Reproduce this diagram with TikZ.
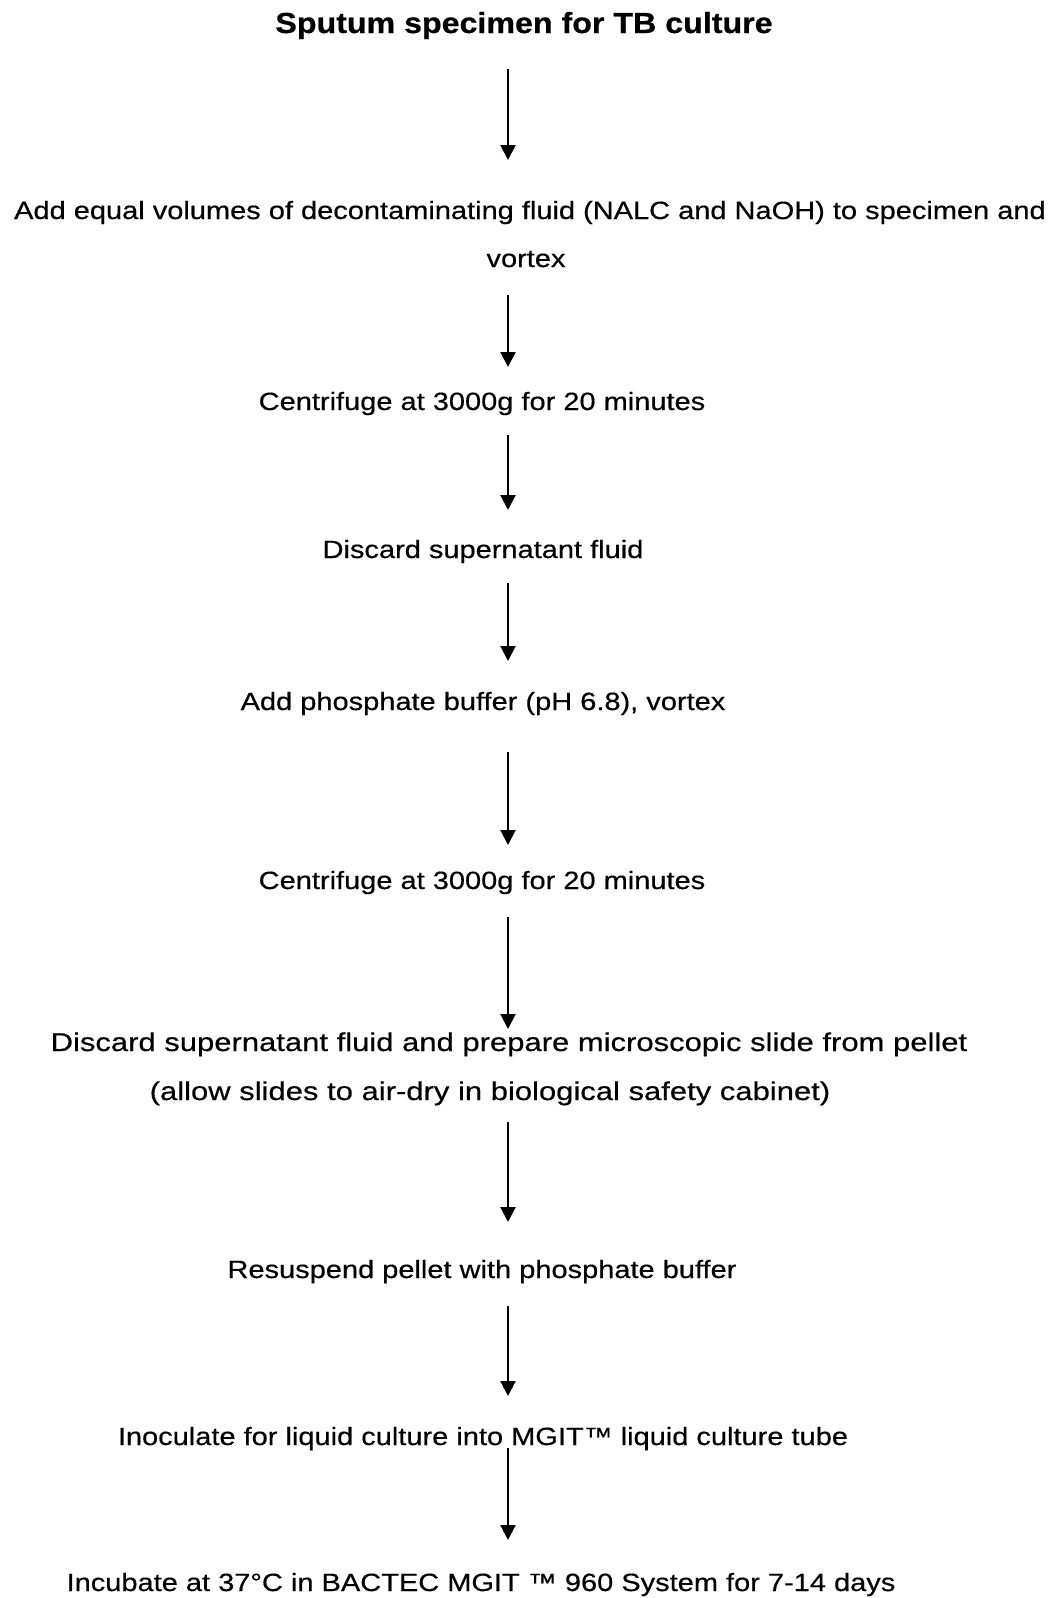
\documentclass[tikz,border=0pt]{standalone}
\usepackage{fontspec}
\setmainfont{Liberation Sans}[FakeBold=0.6]
\newfontfamily\bodyfont{Liberation Sans}[FakeBold=0.4]
\usetikzlibrary{arrows.meta}
\newcommand{\stepfont}{\bodyfont\fontsize{25}{30}\selectfont}
\newcommand{\sx}[1]{\scalebox{1.16}[1]{#1}}
\newcommand{\sxw}[1]{\scalebox{1.24}[1.03]{#1}}
\begin{document}
\begin{tikzpicture}[x=1pt,y=-1pt,
  txt/.style={anchor=base,inner sep=0pt,font=\stepfont},
  ttl/.style={anchor=base,inner sep=0pt,font=\fontsize{29}{33}\selectfont\bfseries},
  flow/.style={line width=2.2pt,-{Triangle[length=15pt,width=15pt]}}]
\useasboundingbox[fill=white] (0,0) rectangle (1061,1598);
% text steps
\node[ttl] (t0) at (524,33) {\scalebox{1.11}[1]{Sputum specimen for TB culture}};
\node[txt] (t1) at (530,219) {\sx{Add equal volumes of decontaminating fluid (NALC and NaOH) to specimen and}};
\node[txt] (t1b) at (526,267) {\sx{vortex}};
\node[txt] (t2) at (482,410) {\sx{Centrifuge at 3000g for 20 minutes}};
\node[txt] (t3) at (483,558) {\sx{Discard supernatant fluid}};
\node[txt] (t4) at (483,710) {\sx{Add phosphate buffer (pH 6.8), vortex}};
\node[txt] (t5) at (482,889) {\sx{Centrifuge at 3000g for 20 minutes}};
\node[txt] (t6) at (509,1051) {\sxw{Discard supernatant fluid and prepare microscopic slide from pellet}};
\node[txt] (t6b) at (490,1100) {\sxw{(allow slides to air-dry in biological safety cabinet)}};
\node[txt] (t7) at (482,1278) {\sx{Resuspend pellet with phosphate buffer}};
\node[txt] (t8) at (483,1445) {\sx{Inoculate for liquid culture into MGIT™ liquid culture tube}};
\node[txt] (t9) at (481,1591) {\sx{Incubate at 37°C in BACTEC MGIT ™ 960 System for 7-14 days}};
% arrow end points
\coordinate (a1s) at (508,69);   \coordinate (a1e) at (508,160);
\coordinate (a2s) at (508,295);  \coordinate (a2e) at (508,367);
\coordinate (a3s) at (508,435);  \coordinate (a3e) at (508,510);
\coordinate (a4s) at (508,583);  \coordinate (a4e) at (508,661);
\coordinate (a5s) at (508,752);  \coordinate (a5e) at (508,845);
\coordinate (a6s) at (508,917);  \coordinate (a6e) at (508,1029);
\coordinate (a7s) at (508,1122); \coordinate (a7e) at (508,1222);
\coordinate (a8s) at (508,1306); \coordinate (a8e) at (508,1396);
\coordinate (a9s) at (508,1448); \coordinate (a9e) at (508,1540);
\foreach \i in {1,...,9} {\draw[flow] (a\i s) -- (a\i e);}
\end{tikzpicture}
\end{document}
